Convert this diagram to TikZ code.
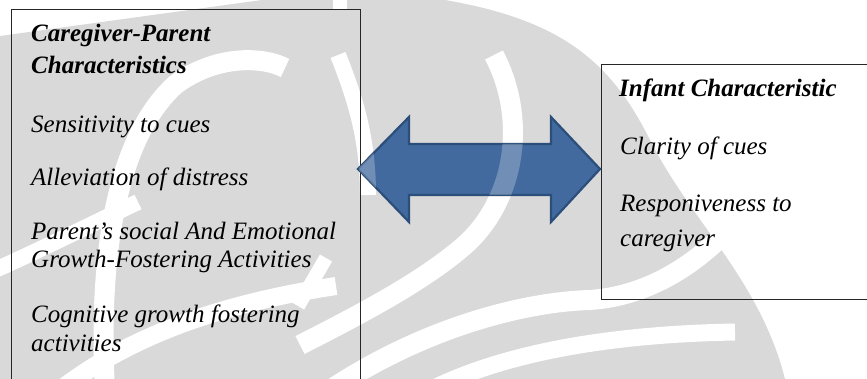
\documentclass[tikz,border=0pt]{standalone}
\usepackage{fontspec}
\setmainfont{Liberation Serif}
\definecolor{wmgrey}{RGB}{217,217,217}
\definecolor{arrowfill}{RGB}{66,106,158}
\definecolor{arrowline}{RGB}{44,78,122}
\tikzset{
  wm/.style={fill=wmgrey},
  band/.style={draw=white, line width=20pt, line cap=butt},
  boxframe/.style={draw=black!85, line width=1pt, fill=none, inner sep=0pt, anchor=north west},
  txt/.style={anchor=base west, inner sep=0pt, font=\fontsize{25}{30}\selectfont\itshape},
  head/.style={anchor=base west, inner sep=0pt, font=\fontsize{25}{30}\selectfont\bfseries\itshape},
  dblarrow/.style={fill=arrowfill, draw=arrowline, line width=2.2pt, line join=miter}
}
\newcommand{\wmbands}{%
  % left arch
  \draw[band] (105,390) .. controls (98,260) and (115,140) .. (175,85)
              .. controls (215,55) and (262,56) .. (285,68);
  % band near left box edge
  \draw[band, line width=16pt] (338,55) .. controls (356,100) and (368,140) .. (368,195);
  \draw[band, line width=14pt] (298,306) -- (326,258);
  % central arc
  \draw[band] (494,55) .. controls (528,120) and (515,200) .. (465,245)
              .. controls (425,280) and (365,312) .. (300,345);
  % lower bands
  \draw[band] (330,390) .. controls (420,330) and (520,302) .. (590,300)
              .. controls (650,296) and (700,262) .. (735,222);
  \draw[band, line width=17pt] (430,390) .. controls (510,350) and (620,334) .. (735,332);
  \draw[band, line width=16pt] (-5,270) .. controls (40,250) and (90,225) .. (138,202);
  \draw[band, line width=18pt] (60,390) .. controls (135,332) and (230,302) .. (336,286);
}
\begin{document}
\begin{tikzpicture}[x=1pt,y=-1pt]
\useasboundingbox (0,0) rectangle (867,379);
\clip (0,0) rectangle (867,379);
\fill[white] (0,0) rectangle (867,379);
% watermark
\fill[wm] (0,36) -- (262,0) -- (445,0)
   .. controls (560,20) and (610,60) .. (650,140)
   .. controls (690,220) and (760,280) .. (785,379)
   -- (0,379) -- cycle;
\fill[white] (333,-2) rectangle (347,9);
\wmbands

% boxes
\node[boxframe, minimum width=349pt, minimum height=400pt] (leftbox) at (11,9) {};
\node[boxframe, minimum width=300pt, minimum height=235pt] (rightbox) at (601,64) {};

% double arrow
\path[dblarrow] (358,169) -- (409,117) -- (409,144) -- (551,144) -- (551,117)
  -- (600,169) -- (551,222) -- (551,195) -- (409,195) -- (409,222) -- cycle;
\begin{scope}
  \clip (358,169) -- (409,117) -- (409,144) -- (551,144) -- (551,117)
  -- (600,169) -- (551,222) -- (551,195) -- (409,195) -- (409,222) -- cycle;
  \begin{scope}[opacity=0.25]
    \wmbands
  \end{scope}
\end{scope}

% left text
\node[head] (l1) at (31,42) {Caregiver-Parent};
\node[head] (l2) at (31,74) {Characteristics};
\node[txt] (l3) at (31,133) {Sensitivity to cues};
\node[txt] (l4) at (31,186) {Alleviation of distress};
\node[txt] (l5) at (31,240) {Parent’s social And Emotional};
\node[txt] (l6) at (31,268) {Growth-Fostering Activities};
\node[txt] (l7) at (31,322) {Cognitive growth fostering};
\node[txt] (l8) at (31,351) {activities};

% right text
\node[head] (r1) at (619,97) {Infant Characteristic};
\node[txt] (r2) at (620,155) {Clarity of cues};
\node[txt] (r3) at (620,212) {Responiveness to};
\node[txt] (r4) at (620,247) {caregiver};
\end{tikzpicture}
\end{document}
